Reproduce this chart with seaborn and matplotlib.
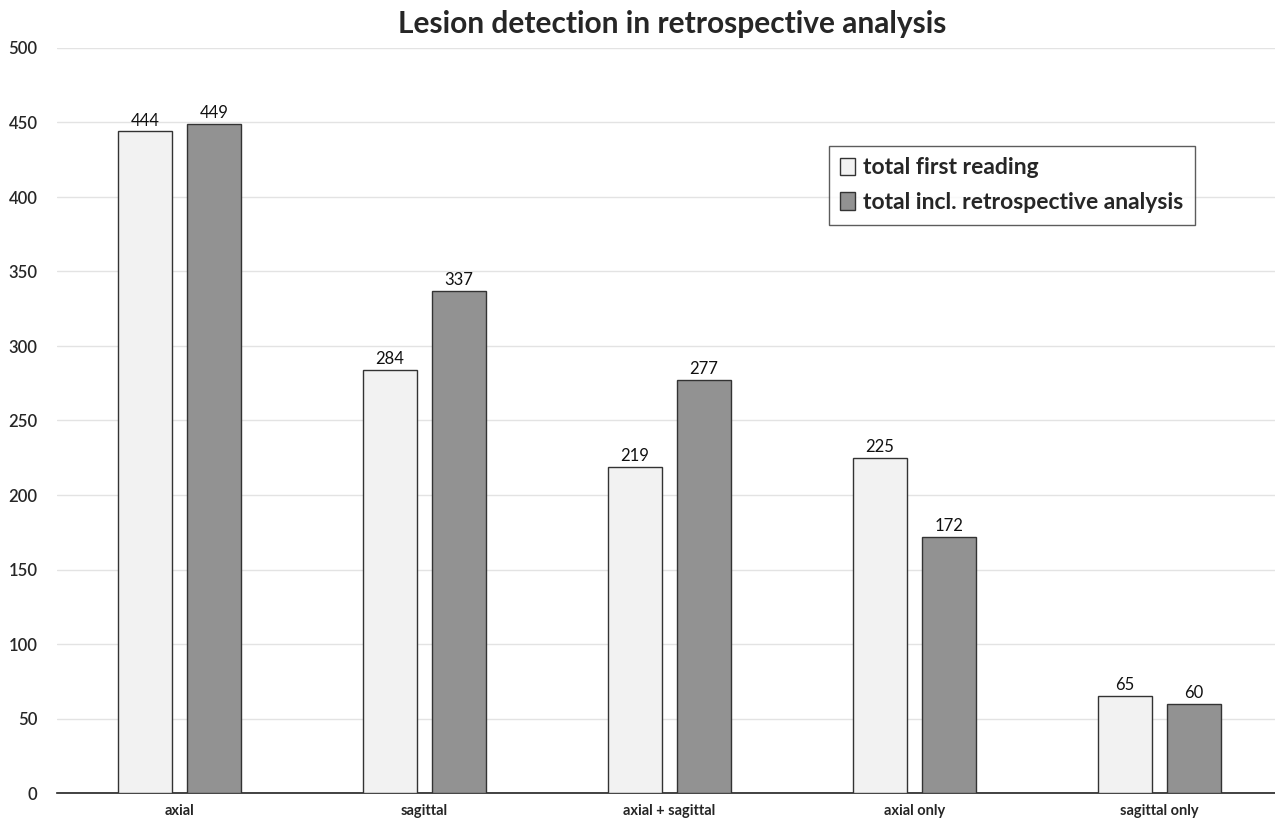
import matplotlib
matplotlib.use("Agg")
import matplotlib.pyplot as plt
import seaborn as sns
import pandas as pd

categories = ["axial", "sagittal", "axial + sagittal", "axial only", "sagittal only"]
first_reading = [444, 284, 219, 225, 65]
incl_retro = [449, 337, 277, 172, 60]
series_names = ["total first reading", "total incl. retrospective analysis"]

df = pd.DataFrame({
    "category": categories * 2,
    "value": first_reading + incl_retro,
    "series": [series_names[0]] * len(categories) + [series_names[1]] * len(categories),
})

sns.set_style("white")
plt.rcParams["font.family"] = ["Lato", "DejaVu Sans"]

fig = plt.figure(figsize=(12.75, 8.21), dpi=100)
ax = fig.add_axes([57 / 1275, 28 / 821, 1225 / 1275, 745 / 821])

sns.barplot(data=df, x="category", y="value", hue="series", order=categories,
            hue_order=series_names, palette=["#f2f2f2", "#929292"],
            width=0.563, gap=0.203, edgecolor="#333333", linewidth=1.0,
            ax=ax, zorder=3)

for cont in ax.containers:
    ax.bar_label(cont, padding=2, fontsize=12, color="#111111")

ax.set_ylim(0, 500)
ax.set_yticks(range(0, 501, 50))
ax.yaxis.grid(True, color="#e3e3e3", linewidth=1, zorder=0)
ax.set_axisbelow(True)
for s in ["left", "right", "top"]:
    ax.spines[s].set_visible(False)
ax.spines["bottom"].set_color("#222222")
ax.spines["bottom"].set_linewidth(1.2)
ax.tick_params(axis="both", length=0)
ax.tick_params(axis="y", labelsize=12, pad=14)
ax.tick_params(axis="x", labelsize=10.5, pad=8)
for lbl in ax.get_xticklabels():
    lbl.set_fontweight("bold")
for lbl in ax.get_yticklabels():
    lbl.set_fontweight("semibold")
ax.set_xlabel("")
ax.set_ylabel("")

fig.suptitle("Lesion detection in retrospective analysis", fontsize=21.5,
             fontweight="bold", x=0.527, y=0.988, va="top")

leg = ax.legend(loc="upper left", bbox_to_anchor=(772 / 1225, (793 - 146) / 745),
                borderaxespad=0, frameon=True, fancybox=False, edgecolor="#333333",
                prop={"size": 16.5, "weight": "bold"}, handlelength=0.65,
                handleheight=0.8, handletextpad=0.35, borderpad=0.5,
                labelspacing=0.6)
leg.get_frame().set_linewidth(1.0)

fig.savefig("out.png", dpi=100)
